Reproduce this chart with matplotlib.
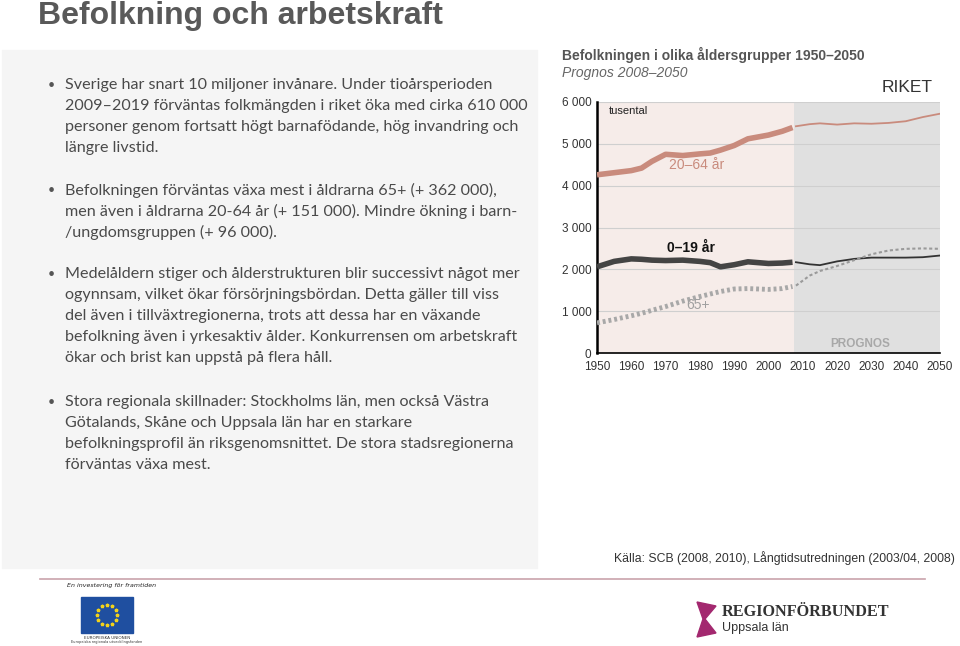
import matplotlib
matplotlib.use("Agg")
import matplotlib.pyplot as plt
import numpy as np
from matplotlib.patches import Rectangle, Polygon

# data (tusental)
hist_years = [1950, 1955, 1960, 1963, 1966, 1970, 1975, 1980, 1983, 1986, 1990, 1994, 2000, 2004, 2007]
young_hist = [2060, 2190, 2250, 2240, 2220, 2210, 2220, 2190, 2160, 2060, 2110, 2180, 2140, 2150, 2170]
work_hist = [4260, 4310, 4360, 4420, 4580, 4750, 4720, 4760, 4780, 4850, 4960, 5120, 5210, 5300, 5390]
old_hist = [720, 800, 890, 950, 1020, 1110, 1240, 1350, 1410, 1470, 1530, 1540, 1520, 1540, 1590]

prog_years = [2008, 2012, 2015, 2020, 2025, 2030, 2035, 2040, 2045, 2050]
young_prog = [2170, 2120, 2100, 2190, 2250, 2280, 2280, 2280, 2290, 2330]
work_prog = [5420, 5470, 5490, 5460, 5490, 5480, 5500, 5540, 5640, 5720]
old_prog = [1610, 1850, 1960, 2080, 2220, 2360, 2450, 2490, 2500, 2490]

x_ticks = [1950, 1960, 1970, 1980, 1990, 2000, 2010, 2020, 2030, 2040, 2050]
y_ticks = [0, 1000, 2000, 3000, 4000, 5000, 6000]
y_labels = ["0", "1 000", "2 000", "3 000", "4 000", "5 000", "6 000"]

bullets = [
    ["Sverige har snart 10 miljoner invånare. Under tioårsperioden",
     "2009–2019 förväntas folkmängden i riket öka med cirka 610 000",
     "personer genom fortsatt högt barnafödande, hög invandring och",
     "längre livstid."],
    ["Befolkningen förväntas växa mest i åldrarna 65+ (+ 362 000),",
     "men även i åldrarna 20-64 år (+ 151 000). Mindre ökning i barn-",
     "/ungdomsgruppen (+ 96 000)."],
    ["Medelåldern stiger och ålderstrukturen blir successivt något mer",
     "ogynnsam, vilket ökar försörjningsbördan. Detta gäller till viss",
     "del även i tillväxtregionerna, trots att dessa har en växande",
     "befolkning även i yrkesaktiv ålder. Konkurrensen om arbetskraft",
     "ökar och brist kan uppstå på flera håll."],
    ["Stora regionala skillnader: Stockholms län, men också Västra",
     "Götalands, Skåne och Uppsala län har en starkare",
     "befolkningsprofil än riksgenomsnittet. De stora stadsregionerna",
     "förväntas växa mest."],
]
bullet_tops = [85, 190, 274, 402]

W, H = 960, 646
fig = plt.figure(figsize=(W / 100, H / 100), dpi=100)
helv = "Liberation Sans"


def fx(x):
    return x / W


def fy(y):
    return 1 - y / H


# slide title
fig.text(fx(38), fy(16), "Befolkning och arbetskraft", fontsize=23, fontweight="bold",
         color="#595959", family=helv, va="center")

# gray text panel
fig.patches.append(Rectangle((fx(2), fy(568)), fx(535), (568 - 50) / H,
                             transform=fig.transFigure, color="#f5f5f5", zorder=0))

for lines, top in zip(bullets, bullet_tops):
    fig.text(fx(48), fy(top), "•", fontsize=9, color="#555555", family="Lato", va="center")
    for i, line in enumerate(lines):
        fig.text(fx(65), fy(top + 21 * i), line, fontsize=11.65, color="#4a4a4a",
                 family="Lato", va="center")

# chart
ax = fig.add_axes([fx(597), fy(353), fx(940 - 597), (353 - 102) / H])
ax.set_xlim(1950, 2050)
ax.set_ylim(0, 6000)
ax.axvspan(1950, 2007.5, color="#f6ece9", zorder=0, lw=0)
ax.axvspan(2007.5, 2050, color="#e0e0e0", zorder=0, lw=0)
for yv in y_ticks[1:]:
    ax.axhline(yv, color="#cfcfcf", lw=0.8, zorder=1)

ax.plot(hist_years, work_hist, color="#c98b7d", lw=4, solid_capstyle="butt", zorder=3)
ax.plot(prog_years, work_prog, color="#c98b7d", lw=1.3, zorder=3)
ax.plot(hist_years, young_hist, color="#444444", lw=4, solid_capstyle="butt", zorder=3)
ax.plot(prog_years, young_prog, color="#333333", lw=1.3, zorder=3)
ax.plot(hist_years, old_hist, color="#a8a8a8", lw=3.5, ls=(0, (0.6, 0.6)), zorder=3)
ax.plot(prog_years, old_prog, color="#9a9a9a", lw=1.5, ls=(0, (1.5, 1.2)), zorder=3)

ax.text(1953.3, 5790, "tusental", fontsize=8, color="#222222", va="center", family=helv)
ax.text(1979, 4500, "20–64 år", fontsize=10, color="#c98b7d",
        ha="center", va="center", family=helv)
ax.text(1977.5, 2500, "0–19 år", fontsize=10, color="#111111", fontweight="bold",
        ha="center", va="center", family=helv)
ax.text(1979.5, 1150, "65+", fontsize=10, color="#a0a0a0",
        ha="center", va="center", family=helv)
ax.text(2026.7, 220, "PROGNOS", fontsize=8.5, color="#a8a8a8", fontweight="bold",
        ha="center", va="center", family=helv)

ax.set_xticks(x_ticks)
ax.set_xticklabels([str(v) for v in x_ticks], fontsize=8.5, color="#333333", family=helv)
ax.set_yticks(y_ticks)
ax.set_yticklabels(y_labels, fontsize=8.5, color="#333333", family=helv)
ax.tick_params(length=0)
ax.tick_params(axis="x", pad=6)
ax.tick_params(axis="y", pad=4)
for side in ["top", "right"]:
    ax.spines[side].set_visible(False)
ax.spines["left"].set_linewidth(1.8)
ax.spines["bottom"].set_linewidth(1.2)

fig.text(fx(562), fy(55), "Befolkningen i olika åldersgrupper 1950–2050", fontsize=10,
         fontweight="bold", color="#555555", va="center", family=helv)
fig.text(fx(562), fy(73), "Prognos 2008–2050", fontsize=10, style="italic",
         color="#666666", va="center", family=helv)
fig.text(fx(882), fy(88), "RIKET", fontsize=12.5, color="#333333", va="center", family=helv)

fig.text(fx(614), fy(558), "Källa: SCB (2008, 2010), Långtidsutredningen (2003/04, 2008)",
         fontsize=8.8, color="#333333", va="center", family=helv)

# footer
fig.add_artist(plt.Line2D([fx(40), fx(925)], [fy(579), fy(579)], color="#c9a3ab", lw=1.2))
fig.text(fx(67), fy(586), "En investering för framtiden", fontsize=4.5, style="italic",
         color="#222222", va="center")
fig.patches.append(Rectangle((fx(81), fy(633)), fx(52), 36 / H, transform=fig.transFigure,
                             color="#1f4fa0", zorder=2))
ang = np.linspace(0, 2 * np.pi, 12, endpoint=False)
fig.add_artist(plt.Line2D(fx(107 + 10 * np.cos(ang)), fy(615 + 10 * np.sin(ang)), ls="none",
                          marker="*", ms=2.5, color="#f2d21b", zorder=5))
fig.text(fx(107), fy(638), "EUROPEISKA UNIONEN", fontsize=3, ha="center", va="center",
         color="#333333")
fig.text(fx(107), fy(642), "Europeiska regionala utvecklingsfonden", fontsize=2.5,
         ha="center", va="center", color="#333333")

fig.patches.append(Polygon([(fx(697), fy(602)), (fx(716), fy(606)), (fx(705), fy(619)),
                            (fx(716), fy(633)), (fx(697), fy(637)), (fx(703), fy(619))],
                           closed=True, transform=fig.transFigure, color="#a3286f"))
fig.text(fx(722), fy(612), "REGIONFÖRBUNDET", fontsize=11.7, fontweight="bold",
         family="Liberation Serif", color="#333333", va="center")
fig.text(fx(722), fy(628), "Uppsala län", fontsize=9, color="#333333", va="center",
         family=helv)

fig.savefig("out.png", dpi=100, facecolor="white")
